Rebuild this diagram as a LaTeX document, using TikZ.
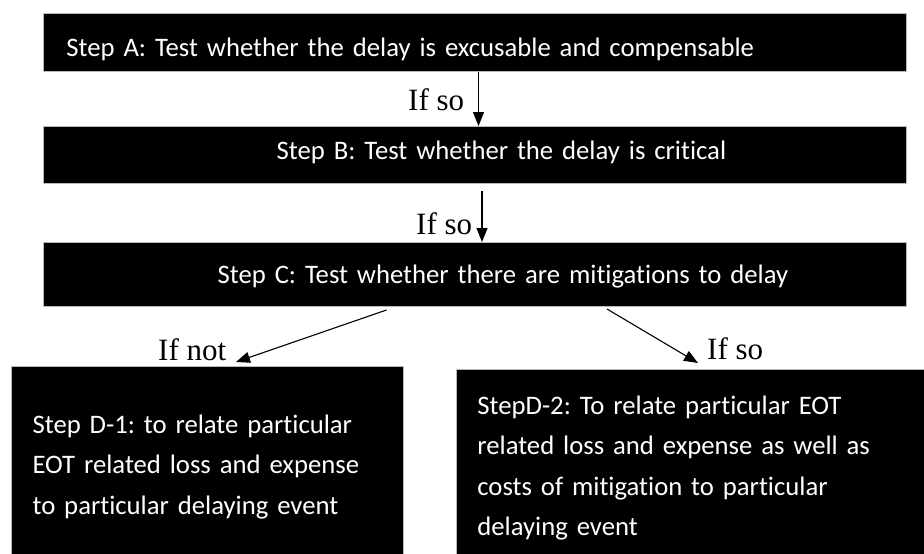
\documentclass[tikz,border=0pt]{standalone}
\usepackage{fontspec}
\setmainfont{Liberation Serif}
\newfontfamily\carlito[Ligatures=NoCommon]{Carlito}
\usetikzlibrary{arrows.meta}
\frenchspacing
\begin{document}
\begin{tikzpicture}[x=1pt,y=-1pt,
  box/.style={fill=black, draw=gray!55, line width=0.8pt, text=white, inner sep=0pt,
    anchor=north west, font=\carlito\fontsize{26.7pt}{40.4pt}\selectfont\frenchspacing},
  lbl/.style={font=\fontsize{31pt}{36pt}\selectfont, inner sep=0pt, anchor=base west},
  arr/.style={line width=1.1pt, -{Triangle[width=11pt,length=14pt]}}]
\useasboundingbox (0,0) rectangle (924,554);

\node[box, text width=863pt, align=left, text height=43pt, text depth=15pt] (A) at (42.5,13)
  {\hspace*{23.5pt}Step A: Test whether the delay is excusable and compensable};
\node[box, text width=863pt, align=center, text height=33.5pt, text depth=23.5pt] (B) at (42.5,126)
  {\hspace*{54pt}Step B: Test whether the delay is critical};
\node[box, text width=863pt, align=center, text height=41pt, text depth=23pt] (C) at (42.5,242)
  {\hspace*{57pt}Step C: Test whether there are mitigations to delay};
\node[box, text width=392pt, align=left, text height=67pt, text depth=200pt] (D1) at (10.7,366)
  {\leftskip=21.5pt Step D-1: to relate particular\\EOT related loss and expense\\to particular delaying event\par};
\node[box, text width=472pt, align=left, text height=45pt, text depth=200pt] (D2) at (455.7,369)
  {\leftskip=21.3pt StepD-2: To relate particular EOT\\related loss and expense as well as\\costs of mitigation to particular\\delaying event\par};

\node[lbl] (l1) at (408,110) {If so};
\node[lbl] (l2) at (416,234) {If so};
\node[lbl] (l3) at (158,360) {If not};
\node[lbl] (l4) at (707,359) {If so};

\coordinate (a1) at (478.5,0);
\draw[arr] (A.south -| a1) -- (B.north -| a1);
\coordinate (a2s) at (482,191);
\draw[arr] (a2s) -- (C.north -| a2s);
\coordinate (a3s) at (386.5,310);
\coordinate (a3e) at (236,362);
\draw[arr] (a3s) -- (a3e);
\coordinate (a4s) at (607,309);
\coordinate (a4e) at (698,363);
\draw[arr] (a4s) -- (a4e);
\end{tikzpicture}
\end{document}
